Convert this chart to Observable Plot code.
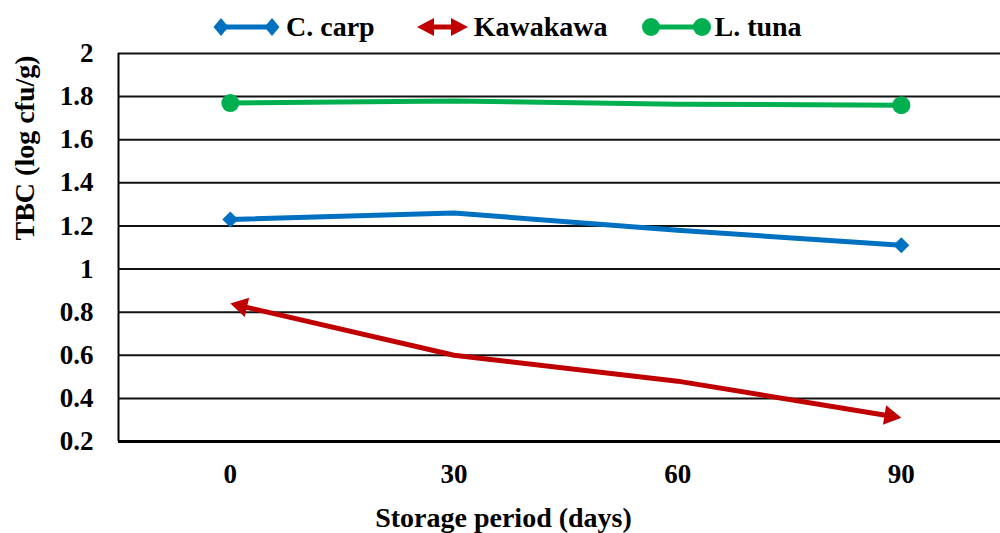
<!DOCTYPE html>
<html>
<head>
<meta charset="utf-8">
<script src="https://cdn.jsdelivr.net/npm/d3@7"></script>
<script src="https://cdn.jsdelivr.net/npm/@observablehq/plot@0.6"></script>
<style>
  html, body { margin: 0; padding: 0; background: #fff; }
  #wrap { position: relative; width: 1000px; height: 533px; overflow: hidden; }
  #legend { position: absolute; top: 12px; left: 212px; height: 30px; display: flex; align-items: center; color: #000; }
  #legend .lbl { line-height: 30px; white-space: nowrap; }
  #legend svg { display: block; }
  svg text { font-family: "Liberation Serif", serif; }
</style>
</head>
<body>
<div id="wrap">
  <div id="legend"></div>
</div>
<script>
// ---- data ----
const days = [0, 30, 60, 90];
const carp = [1.23, 1.26, 1.18, 1.11];
const kawakawa = [0.84, 0.60, 0.48, 0.31];
const tuna = [1.77, 1.78, 1.765, 1.76];
const seriesNames = ["C. carp", "Kawakawa", "L. tuna"];
const seriesColors = ["#0070C0", "#C00000", "#00B050"];
const yTicks = [0.2, 0.4, 0.6, 0.8, 1.0, 1.2, 1.4, 1.6, 1.8, 2.0];
const xTicks = [0, 30, 60, 90];
const xTitle = "Storage period (days)";
const yTitle = "TBC (log cfu/g)";

// ---- config ----
const FONT = "Liberation Serif";
const xDomain = [-15, 103.3];
const yDomain = [0.2, 2];
const ARROW_R = 7.3;

const toRows = (name, vals) => days.map((d, i) => ({series: name, day: d, value: vals[i]}));
const carpRows = toRows(seriesNames[0], carp);
const kawaRows = toRows(seriesNames[1], kawakawa);
const tunaRows = toRows(seriesNames[2], tuna);
const ends = rows => [rows[0], rows[rows.length - 1]];

function build(kawaLine, heads) {
  return Plot.plot({
    width: 1000,
    height: 533,
    marginLeft: 118,
    marginRight: 0,
    marginTop: 53,
    marginBottom: 92,
    style: {fontFamily: FONT, fontSize: "27px", fontWeight: "bold", color: "#000", background: "transparent"},
    x: {domain: xDomain, ticks: xTicks, tickSize: 0, tickPadding: 22, label: null, tickFormat: d => String(d)},
    y: {domain: yDomain, ticks: yTicks, tickSize: 0, tickPadding: 25, label: null,
        tickFormat: d => String(Math.round(d * 10) / 10)},
    marks: [
      Plot.ruleY(yTicks.slice(1), {stroke: "#111", strokeWidth: 2}),
      Plot.ruleY([yDomain[0]], {stroke: "#000", strokeWidth: 3}),
      Plot.ruleX([xDomain[0]], {stroke: "#000", strokeWidth: 2}),
      Plot.line(carpRows, {x: "day", y: "value", stroke: seriesColors[0], strokeWidth: 5, strokeLinejoin: "round"}),
      Plot.line(kawaLine, {x: "day", y: "value", stroke: seriesColors[1], strokeWidth: 5, strokeLinejoin: "round"}),
      Plot.line(tunaRows, {x: "day", y: "value", stroke: seriesColors[2], strokeWidth: 5, strokeLinejoin: "round"}),
      Plot.dot(ends(carpRows), {x: "day", y: "value", symbol: "diamond2", r: 7.2, fill: seriesColors[0], stroke: null}),
      Plot.dot(ends(tunaRows), {x: "day", y: "value", r: 9, fill: seriesColors[2], stroke: null}),
      Plot.dot(heads, {x: "day", y: "value", symbol: "triangle", r: ARROW_R, rotate: "angle", fill: seriesColors[1], stroke: null}),
      Plot.text([xTitle], {text: d => d, frameAnchor: "bottom", dx: -56, dy: 85, fontSize: 28, fontWeight: "bold", fontFamily: FONT, fill: "#000"}),
      Plot.text([yTitle], {text: d => d, frameAnchor: "left", dx: -93, dy: -7, rotate: -90, fontSize: 28, fontWeight: "bold", fontFamily: FONT, fill: "#000"})
    ]
  });
}

// first pass to obtain scales
const base = build(kawaRows, []);
const sx = base.scale("x"), sy = base.scale("y");
const hy = Math.sqrt(Math.PI * ARROW_R * ARROW_R / (3 * Math.sqrt(3)));
function head(endRow, nbRow) {
  const px = sx.apply(endRow.day), py = sy.apply(endRow.value);
  const qx = sx.apply(nbRow.day), qy = sy.apply(nbRow.value);
  const len = Math.hypot(px - qx, py - qy);
  const ux = (px - qx) / len, uy = (py - qy) / len;
  const cx = px - ux * 2 * hy, cy = py - uy * 2 * hy;
  return {series: endRow.series, day: sx.invert(cx), value: sy.invert(cy), angle: Math.atan2(ux, -uy) * 180 / Math.PI};
}
const h0 = head(kawaRows[0], kawaRows[1]);
const h1 = head(kawaRows[3], kawaRows[2]);
const kawaLine = [h0, kawaRows[1], kawaRows[2], h1];
const chart = build(kawaLine, [h0, h1]);
const wrap = document.getElementById("wrap");
wrap.insertBefore(chart, wrap.firstChild);

// ---- legend ----
const swatches = [
  `<svg width="69" height="30"><line x1="9" y1="15" x2="60" y2="15" stroke="${seriesColors[0]}" stroke-width="5"/>
     <polygon points="1.5,15 9,6 16.5,15 9,24" fill="${seriesColors[0]}"/><polygon points="52.5,15 60,6 67.5,15 60,24" fill="${seriesColors[0]}"/></svg>`,
  `<svg width="51" height="30"><line x1="14" y1="15" x2="37" y2="15" stroke="${seriesColors[1]}" stroke-width="5"/>
     <polygon points="0,15 17,6 17,24" fill="${seriesColors[1]}"/><polygon points="51,15 34,6 34,24" fill="${seriesColors[1]}"/></svg>`,
  `<svg width="69" height="30"><line x1="9" y1="15" x2="60" y2="15" stroke="${seriesColors[2]}" stroke-width="5"/>
     <circle cx="9" cy="15" r="9" fill="${seriesColors[2]}"/><circle cx="60" cy="15" r="9" fill="${seriesColors[2]}"/></svg>`
];
const gaps = [[0, 5], [42, 6], [35, 3]];
const legend = document.getElementById("legend");
seriesNames.forEach((name, i) => {
  const sw = document.createElement("div");
  sw.innerHTML = swatches[i];
  sw.style.marginLeft = gaps[i][0] + "px";
  const lbl = document.createElement("span");
  lbl.className = "lbl";
  lbl.textContent = name;
  lbl.style.marginLeft = gaps[i][1] + "px";
  lbl.style.fontFamily = FONT;
  lbl.style.fontWeight = "bold";
  lbl.style.fontSize = "28px";
  legend.appendChild(sw);
  legend.appendChild(lbl);
});
</script>
</body>
</html>
